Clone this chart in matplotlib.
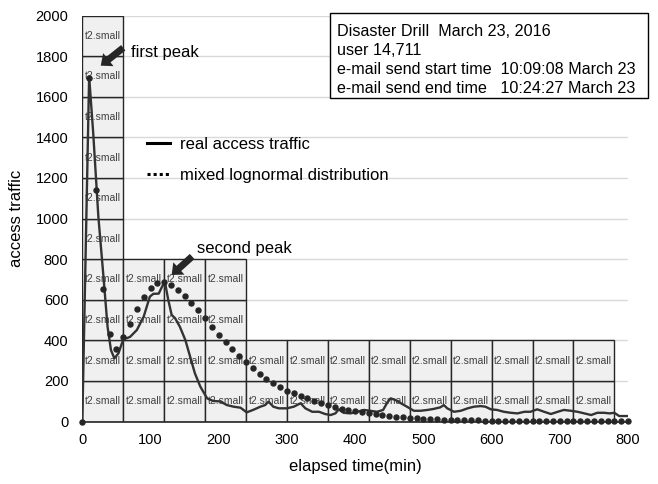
import matplotlib
matplotlib.use('Agg')
import matplotlib.pyplot as plt
from matplotlib.patches import Rectangle
from matplotlib.lines import Line2D

plt.rcParams['font.family'] = ['Liberation Sans', 'DejaVu Sans']

# real access traffic (elapsed minutes, requests)
traffic_t = [0, 10, 16, 23.5, 31, 37, 42, 47, 53, 58, 62, 65, 70, 80, 90, 99, 104, 112, 117, 121,
             126, 131, 136, 143, 151, 158, 165, 173, 183, 192, 202, 212, 222, 232, 241, 251, 261,
             268, 273, 280, 288, 300, 310, 320, 327, 337, 347, 356, 364, 371, 376, 383, 393, 403,
             413, 422, 432, 441, 447, 452, 459, 467, 476, 486, 496, 506, 515, 525, 530, 535, 545,
             555, 565, 574, 584, 591, 599, 608, 618, 628, 638, 648, 657, 667, 677, 687, 697, 706,
             716, 726, 736, 746, 755, 765, 773, 780, 787, 800]
traffic_v = [0, 1700, 1420, 1010, 714, 467, 352, 311, 336, 385, 415, 410, 417, 451, 517, 615, 629,
             630, 665, 689, 599, 525, 509, 467, 402, 320, 238, 172, 114, 101, 99, 81, 73, 68, 45,
             58, 73, 81, 98, 73, 65, 65, 73, 90, 65, 48, 48, 37, 32, 40, 60, 43, 40, 48, 57, 53,
             48, 57, 93, 114, 106, 90, 73, 53, 53, 57, 62, 70, 81, 65, 48, 53, 65, 73, 76, 73, 60,
             57, 48, 43, 40, 48, 48, 60, 48, 37, 48, 57, 53, 48, 40, 32, 43, 43, 40, 43, 27, 27]

# mixed lognormal distribution, one value every 10 minutes
model_t = list(range(0, 801, 10))
model_v = [0, 1690, 1141, 655, 433, 355, 418, 481, 554, 615, 656, 680, 689, 673, 650, 620, 585,
           547, 509, 467, 427, 390, 355, 321, 291, 262, 236, 208, 188, 172, 152, 139, 126, 114,
           103, 93, 81, 73, 62, 55, 52, 47, 41, 38, 33, 28, 24, 20, 17, 15, 13, 12, 10, 9, 8, 7,
           7, 6, 6, 5, 5, 4, 4, 4, 3, 3, 3, 3, 3, 2, 2, 2, 2, 2, 2, 2, 1, 1, 1, 1, 1]

# t2.small instances running in each 60 min slot (each handles 200 requests)
slot_minutes = 60
slot_instances = [10, 4, 4, 4, 2, 2, 2, 2, 2, 2, 2, 2, 2]
instance_capacity = 200
instance_name = 't2.small'

info_lines = ['Disaster Drill  March 23, 2016',
              'user 14,711',
              'e-mail send start time  10:09:08 March 23',
              'e-mail send end time   10:24:27 March 23']

fig = plt.figure(figsize=(6.58, 4.84), dpi=100)
ax = fig.add_axes([0.1251, 0.1291, 0.8293, 0.8388])

# instance boxes
for i, n in enumerate(slot_instances):
    x0 = i * slot_minutes
    for k in range(n):
        y0 = k * instance_capacity
        ax.add_patch(Rectangle((x0, y0), slot_minutes, instance_capacity, facecolor='#f0f0f0',
                               edgecolor='#262626', linewidth=1.0, zorder=1))
        ax.text(x0 + slot_minutes / 2, y0 + instance_capacity / 2, instance_name, fontsize=7.5,
                color='#404040', ha='center', va='center', zorder=2)

ax.plot(traffic_t, traffic_v, color='#333333', linewidth=1.7, zorder=4)
ax.plot(model_t, model_v, linestyle='none', marker='o', markersize=3.6, color='#262626',
        zorder=5, clip_on=False)

ax.set_xlim(0, 800)
ax.set_ylim(0, 2000)
ax.set_xticks(range(0, 801, 100))
ax.set_yticks(range(0, 2001, 200))
ax.grid(axis='y', color='#d9d9d9', linewidth=1.0, zorder=0)
ax.set_axisbelow(True)
for s in ['top', 'right', 'left']:
    ax.spines[s].set_visible(False)
ax.spines['bottom'].set_color('#262626')
ax.spines['bottom'].set_linewidth(1.2)
ax.spines['bottom'].set_zorder(3)
ax.tick_params(axis='both', length=0, labelsize=10.5)
ax.tick_params(axis='x', pad=8)
ax.tick_params(axis='y', pad=10)
ax.set_xlabel('elapsed time(min)', fontsize=12, labelpad=9)
ax.set_ylabel('access traffic', fontsize=12, labelpad=8)

# legend
handles = [Line2D([], [], color='black', linewidth=2.2),
           Line2D([], [], color='black', linewidth=2.2, linestyle=(0, (1, 1)))]
ax.legend(handles, ['real access traffic', 'mixed lognormal distribution'], loc='upper left',
          bbox_to_anchor=(0.119, 0.70), frameon=False, fontsize=12, handlelength=1.35,
          handletextpad=0.6, labelspacing=0.95, borderpad=0, borderaxespad=0)

# peak annotations
arrow = dict(facecolor='#262626', edgecolor='none', width=5, headwidth=12, headlength=7, shrink=0)
ax.annotate('', xy=(27, 1753), xytext=(60, 1841), arrowprops=arrow, zorder=6)
ax.text(72, 1818, 'first peak', fontsize=12, va='center', ha='left', zorder=6)
ax.annotate('', xy=(131, 722), xytext=(161, 813), arrowprops=arrow, zorder=6)
ax.text(168, 850, 'second peak', fontsize=12, va='center', ha='left', zorder=6)

# info box
fig.add_artist(Rectangle((0.5015, 0.7975), 0.4833, 0.1756, transform=fig.transFigure,
                         facecolor='white', edgecolor='black', linewidth=1.0))
for j, line in enumerate(info_lines):
    fig.text(0.5117, 0.9339 - j * 0.0386, line, fontsize=11.6, va='center', ha='left')

fig.savefig('out.png', dpi=100)
